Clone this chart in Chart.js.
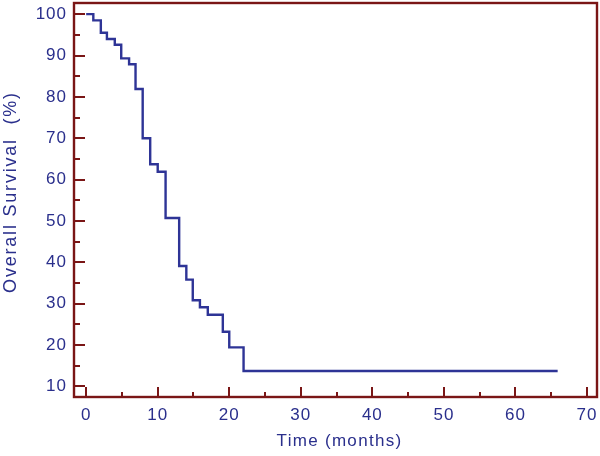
<!DOCTYPE html>
<html>
<head>
<meta charset="utf-8">
<script src="https://cdn.jsdelivr.net/npm/chart.js@4.4.1/dist/chart.umd.min.js"></script>
<style>
  html, body { margin: 0; padding: 0; background: #ffffff; }
  #wrap { width: 600px; height: 456px; }
</style>
</head>
<body>
<div id="wrap"><canvas id="c" width="600" height="456"></canvas></div>
<script>
// Kaplan-Meier steps: time (months) and survival (%) after each step
const times    = [0, 1.0, 2.05, 2.9, 4.0, 4.9, 6.0, 6.9, 7.9, 8.95, 10.0, 11.1, 13.0, 14.0, 14.9, 15.9, 17.0, 19.1, 20.0, 22.0, 65.9];
const survival = [100, 98.5, 95.5, 94.0, 92.6, 89.3, 87.9, 81.9, 70.0, 63.7, 61.9, 50.7, 39.1, 35.8, 30.8, 29.1, 27.3, 23.2, 19.4, 13.7, 13.7];
const xTicks = [0, 10, 20, 30, 40, 50, 60, 70];
const xMinor = [5, 15, 25, 35, 45, 55, 65];
const yTicks = [10, 20, 30, 40, 50, 60, 70, 80, 90, 100];
const yMinor = [15, 25, 35, 45, 55, 65, 75, 85, 95];
const xTitle = 'Time (months)';
const yTitle = 'Overall Survival  (%)';

const BLUE = '#2e3496';
const TEXT = '#2a2f8c';
const RED = '#7a1616';

// wider-looking text like the reference (letter spacing), with small title nudges
const textPlugin = {
  id: 'textStyle',
  beforeInit(chart) {
    const ctx = chart.ctx;
    const orig = ctx.fillText.bind(ctx);
    ctx.fillText = function (t, x, y, w) {
      const prev = ctx.letterSpacing;
      if (t === yTitle) { ctx.letterSpacing = '1.8px'; x += 8; }
      else if (t === xTitle) { ctx.letterSpacing = '1.3px'; x += 4; }
      else { ctx.letterSpacing = '1px'; }
      const r = w === undefined ? orig(t, x, y) : orig(t, x, y, w);
      ctx.letterSpacing = prev;
      return r;
    };
  }
};

const framePlugin = {
  id: 'frame',
  afterDraw(chart) {
    const ctx = chart.ctx;
    const a = chart.chartArea;
    const xs = chart.scales.x, ys = chart.scales.y;
    ctx.save();
    ctx.strokeStyle = RED;
    ctx.lineWidth = 2.4;
    ctx.strokeRect(a.left, a.top, a.right - a.left, a.bottom - a.top);
    ctx.lineWidth = 2;
    ctx.beginPath();
    xTicks.forEach(v => { const p = Math.round(xs.getPixelForValue(v)); ctx.moveTo(p, a.bottom); ctx.lineTo(p, a.bottom - 10); });
    xMinor.forEach(v => { const p = Math.round(xs.getPixelForValue(v)); ctx.moveTo(p, a.bottom); ctx.lineTo(p, a.bottom - 5); });
    yTicks.forEach(v => { const p = Math.round(ys.getPixelForValue(v)); ctx.moveTo(a.left, p); ctx.lineTo(a.left + 11, p); });
    yMinor.forEach(v => { const p = Math.round(ys.getPixelForValue(v)); ctx.moveTo(a.left, p); ctx.lineTo(a.left + 6, p); });
    ctx.stroke();
    ctx.restore();
  }
};

new Chart(document.getElementById('c'), {
  type: 'line',
  data: {
    datasets: [{
      data: times.map((t, i) => ({ x: t, y: survival[i] })),
      stepped: true,
      borderColor: BLUE,
      borderWidth: 2.4,
      pointRadius: 0,
      fill: false
    }]
  },
  options: {
    responsive: false,
    animation: false,
    devicePixelRatio: 1,
    layout: { padding: { top: 3, right: 3, left: 0, bottom: 0 } },
    plugins: { legend: { display: false }, tooltip: { enabled: false } },
    scales: {
      x: {
        type: 'linear',
        min: -1.7,
        max: 71.4,
        afterBuildTicks(s) { s.ticks = xTicks.map(v => ({ value: v })); },
        afterFit(s) { s.height = 59; s.paddingLeft = 0; s.paddingRight = 0; },
        grid: { display: false, drawTicks: false },
        border: { display: false },
        ticks: { color: TEXT, font: { family: 'Liberation Sans', size: 17 }, padding: 8, maxRotation: 0 },
        title: { display: true, text: xTitle, color: TEXT, font: { family: 'Liberation Sans', size: 17 }, padding: { top: 0, bottom: 4 } }
      },
      y: {
        type: 'linear',
        min: 7.4,
        max: 102.7,
        afterBuildTicks(s) { s.ticks = yTicks.map(v => ({ value: v })); },
        afterFit(s) { s.width = 74; s.paddingTop = 0; s.paddingBottom = 0; },
        grid: { display: false, drawTicks: false },
        border: { display: false },
        ticks: { color: TEXT, font: { family: 'Liberation Sans', size: 17 }, padding: 7 },
        title: { display: true, text: yTitle, color: TEXT, font: { family: 'Liberation Sans', size: 18 }, padding: { top: 0, bottom: 0 } }
      }
    }
  },
  plugins: [textPlugin, framePlugin]
});
</script>
</body>
</html>
